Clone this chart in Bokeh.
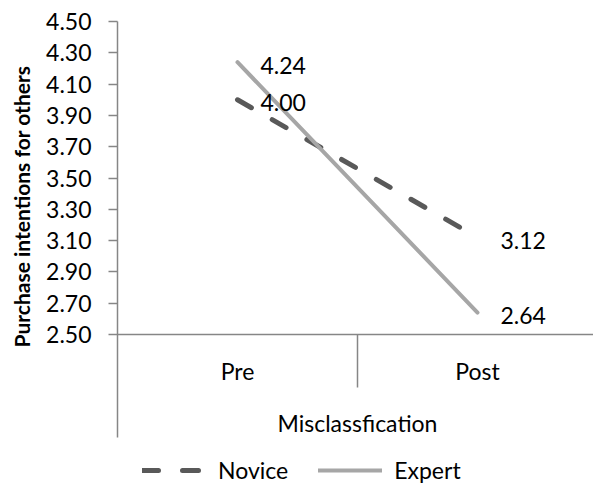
from bokeh.plotting import figure
from bokeh.models import (Range1d, LinearAxis, FixedTicker, PrintfTickFormatter,
                          Span, Legend, LegendItem, Title)
from bokeh.core.properties import value
from bokeh.embed import file_html
from bokeh.resources import INLINE

# ---- data ----
categories = ["Pre", "Post"]
novice = [4.00, 3.12]
expert = [4.24, 2.64]
y_ticks = [2.50, 2.70, 2.90, 3.10, 3.30, 3.50, 3.70, 3.90, 4.10, 4.30, 4.50]
y_title = "Purchase intentions for others"
x_title = "Misclassfication"
series_names = ["Novice", "Expert"]

FONT = "Lato"
FS = "23px"
AXIS_C = "#868686"
NOVICE_C = "#595959"
EXPERT_C = "#A6A6A6"

W, H = 593, 488
LEFT, TOP = 117, 21
xs = [i + 0.5 for i in range(len(categories))]
y_min, y_max = y_ticks[0], y_ticks[-1]
px_per_unit = 313 / (y_max - y_min)
FRAME_H = H - TOP
y_lo = y_max - FRAME_H / px_per_unit
y_line_end = y_min - 103 / px_per_unit

p = figure(width=W, height=H,
           x_range=Range1d(0, (W - LEFT) / 240), y_range=Range1d(y_lo, y_max),
           x_axis_location=None, y_axis_location=None,
           output_backend="svg", toolbar_location=None,
           min_border_left=LEFT, min_border_right=0,
           min_border_top=TOP, min_border_bottom=0)
p.outline_line_color = None
p.xgrid.visible = False
p.ygrid.visible = False

# y axis: ticks and tick labels
ya = LinearAxis(ticker=FixedTicker(ticks=y_ticks, minor_ticks=[]),
                formatter=PrintfTickFormatter(format="%.2f"),
                bounds=(y_line_end, y_max))
ya.axis_line_color = AXIS_C
ya.axis_line_width = 1.5
ya.major_tick_line_color = AXIS_C
ya.major_tick_line_width = 1.5
ya.major_tick_out = 9
ya.major_tick_in = 0
ya.minor_tick_line_color = None
ya.major_label_standoff = 17
ya.major_label_text_font = FONT
ya.major_label_text_font_size = FS
ya.major_label_text_color = "#000000"
p.add_layout(ya, "left")

# y axis title
yt = Title(text=y_title, align="left", vertical_align="top", offset=141, standoff=16,
           text_font=FONT, text_font_size="21px", text_font_style="bold",
           text_color="#000000")
p.add_layout(yt, "left")

# horizontal axis line at the bottom of the value range
p.add_layout(Span(location=y_min, dimension="width", line_color=AXIS_C, line_width=1.5))

# category divider tick
p.segment(x0=[1.0], y0=[y_min], x1=[1.0], y1=[y_min - 53 / px_per_unit],
          line_color=AXIS_C, line_width=1.5)

# category labels and axis title
p.text(x=xs, y=[y_min - 36 / px_per_unit] * len(xs), text=categories,
       text_align="center", text_baseline="middle",
       text_font=value(FONT), text_font_size=FS, text_color="#000000")
p.text(x=[1.0], y=[y_min - 88 / px_per_unit], text=[x_title],
       text_align="center", text_baseline="middle",
       text_font=value(FONT), text_font_size=FS, text_color="#000000")

# series
r_nov = p.line(xs, novice, line_color=NOVICE_C, line_width=5, line_dash="16 24",
               line_cap="round")
r_exp = p.line(xs, expert, line_color=EXPERT_C, line_width=4, line_cap="round")

# data labels
for vals in (novice, expert):
    p.text(x=xs, y=vals, text=[f"{v:.2f}" for v in vals],
           x_offset=23, y_offset=3, text_align="left", text_baseline="middle",
           text_font=value(FONT), text_font_size=FS, text_color="#000000")

legend = Legend(items=[LegendItem(label=series_names[0], renderers=[r_nov]),
                       LegendItem(label=series_names[1], renderers=[r_exp])],
                orientation="horizontal", location=(25, 4))
legend.border_line_color = None
legend.background_fill_alpha = 0
legend.padding = 0
legend.margin = 0
legend.spacing = 30
legend.glyph_width = 64
legend.label_standoff = 12
legend.label_text_font = FONT
legend.label_text_font_size = FS
legend.label_text_color = "#000000"
p.add_layout(legend)

open("out.html", "w").write(file_html(p, INLINE))
